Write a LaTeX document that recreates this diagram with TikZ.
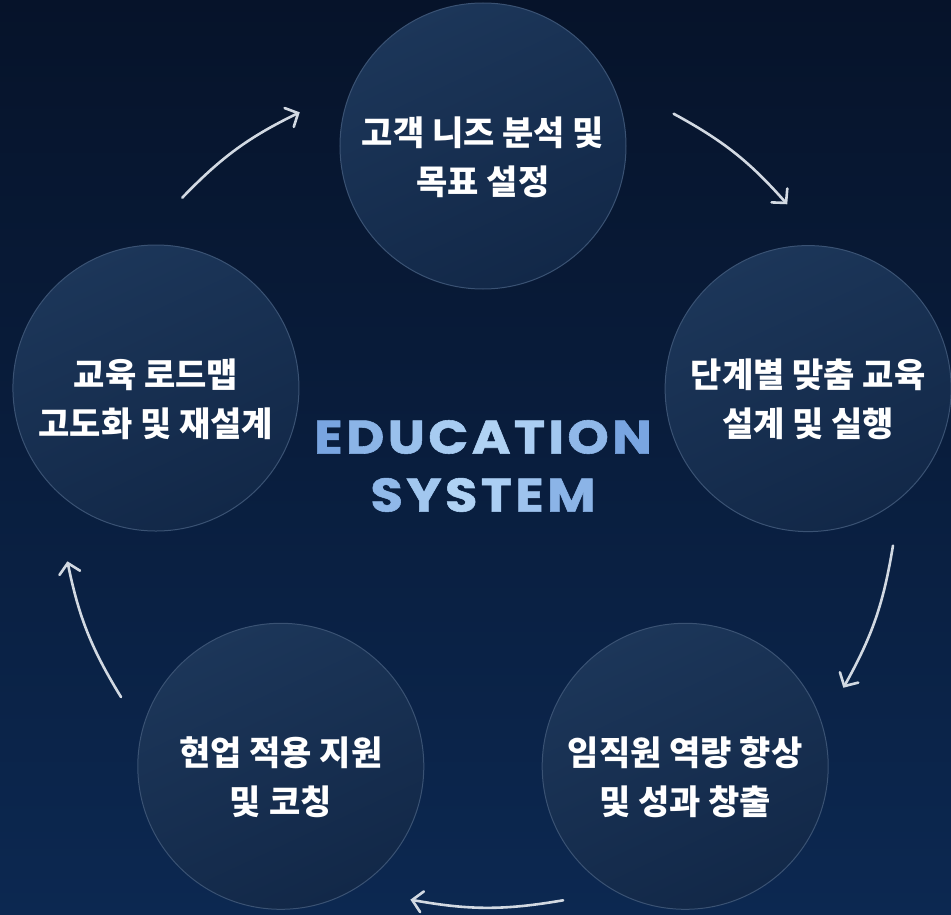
\documentclass[tikz,border=0pt]{standalone}
\usepackage{fontspec}
\newfontfamily\kr{Noto Sans CJK KR}
\newfontfamily\headfont{Poppins}[FakeStretch=1.12,FakeBold=1.2]
\usetikzlibrary{positioning}
\usetikzlibrary{arrows.meta}
\definecolor{bgtop}{HTML}{06132A}
\definecolor{bgbot}{HTML}{0C2851}
\definecolor{ringtop}{HTML}{1C3659}
\definecolor{ringbot}{HTML}{122848}
\definecolor{ringline}{HTML}{3A5273}
\definecolor{arrowcol}{HTML}{D2D9E2}
\definecolor{hdblue}{HTML}{5488D4}
\definecolor{hdlight}{HTML}{B0D2F4}
\newcommand\hc[2]{\kern1.7pt\textcolor{hdlight!#1!hdblue}{#2}\kern1.7pt}
\tikzset{main node/.style={shape=circle,
    draw=ringline, line width=1pt, align=center,
    minimum size=286pt, inner sep=0pt, text height=100pt,
    top color=ringtop, bottom color=ringbot, shading angle=25,
    text=white, font=\kr\bfseries\fontsize{34}{49}\selectfont},
  flow/.style={draw=arrowcol, line width=2.6pt, line cap=round,
    -{Straight Barb[length=10pt,width=21pt,line cap=round]}}}

\begin{document}
\begin{tikzpicture}[x=1pt,y=1pt]
    \useasboundingbox (-483,-426) rectangle (468,488);
    \fill[top color=bgtop, bottom color=bgbot] (-483,-426) rectangle (468,488);

    \node[main node] (1) at (90:342) {고객 니즈 분석 및\\목표 설정};
    \node[main node] (2) at (17:340) {단계별 맞춤 교육\\설계 및 실행};
    \node[main node] (3) at (-54:344) {임직원 역량 향상\\및 성과 창출};
    \node[main node] (4) at (-126:344) {현업 적용 지원\\및 코칭};
    \node[main node] (5) at (163:342) {교육 로드맵\\고도화 및 재설계};

    \node (title) at (0,22) [align=center,
      font=\headfont\bfseries\fontsize{47}{58}\selectfont]
      {\hc{40}{E}\hc{60}{D}\hc{75}{U}\hc{90}{C}\hc{100}{A}\hc{95}{T}\hc{85}{I}\hc{65}{O}\hc{40}{N}\\
       \hc{65}{S}\hc{85}{Y}\hc{100}{S}\hc{95}{T}\hc{80}{E}\hc{60}{M}};

    % arrow ends around the ring
    \coordinate (s1) at (136:418); \coordinate (e1) at (116:418);
    \coordinate (s2) at (63:420);  \coordinate (e2) at (43:416);
    \coordinate (s3) at (-8:414);  \coordinate (e3) at (-29:412);
    \coordinate (s4) at (-79:420); \coordinate (e4) at (-100:418);
    \coordinate (s5) at (210:418); \coordinate (e5) at (190:422);

    \draw[flow] (s1) to[bend left=10] (e1);
    \draw[flow] (s2) to[bend left=10] (e2);
    \draw[flow] (s3) to[bend left=10] (e3);
    \draw[flow] (s4) to[bend left=10] (e4);
    \draw[flow] (s5) to[bend left=10] (e5);
\end{tikzpicture}
\end{document}
